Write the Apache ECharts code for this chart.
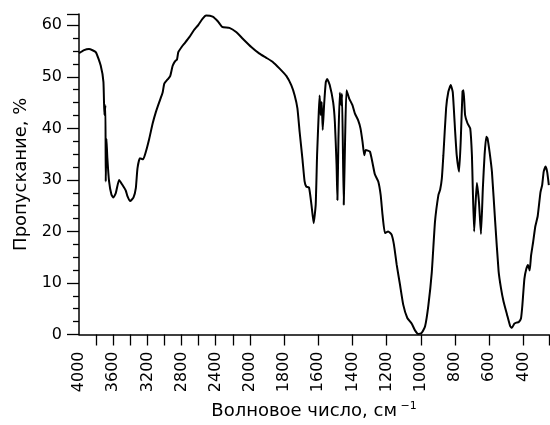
<!DOCTYPE html>
<html>
<head>
    <meta charset="UTF-8">
    <title>ИК-спектр</title>
    <script src="https://cdn.jsdelivr.net/npm/echarts@6.0.0/dist/echarts.min.js"></script>
</head>
<body style="margin:0">

<div id="main" style="width: 550px;height:425px"></div>

<script type="text/javascript">
    // волновое число, см-1
    var wavenumber = [4000, 3940, 3883, 3804, 3746, 3714, 3703, 3691, 3687, 3679, 3668, 3648, 3620, 3597, 3570,
        3531, 3491, 3452, 3432, 3401, 3362, 3335, 3316, 3288, 3249, 3217, 3178, 3139, 3100, 3061, 3022, 3002,
        2963, 2932, 2905, 2877, 2853, 2838, 2799, 2760, 2709, 2658, 2603, 2553, 2513, 2436, 2376, 2325, 2240,
        2161, 2083, 1992, 1944, 1904, 1866, 1826, 1787, 1758, 1738, 1722, 1709, 1693, 1680, 1670, 1654, 1640,
        1627, 1615, 1607, 1597, 1592, 1586, 1580, 1574, 1566, 1556, 1548, 1533, 1513, 1503, 1493, 1488, 1482,
        1474, 1466, 1461, 1451, 1443, 1435, 1419, 1400, 1386, 1367, 1353, 1341, 1331, 1322, 1298, 1282, 1269,
        1249, 1235, 1224, 1210, 1191, 1171, 1157, 1141, 1122, 1103, 1079, 1053, 1034, 1015, 995, 975, 956,
        936, 917, 897, 887, 877, 868, 852, 839, 825, 813, 799, 790, 776, 766, 756, 750, 741, 727, 711, 701,
        696, 688, 680, 672, 660, 648, 637, 627, 617, 610, 598, 584, 565, 545, 531, 516, 496, 477, 467, 453,
        441, 428, 414, 406, 394, 383, 373, 363, 355, 343, 330, 316, 300, 290, 281, 271, 261, 251];
    // пропускание, %
    var transmittance = [54.6, 55.2, 55.4, 54.8, 52.2, 49.0, 42.6, 44.5, 29.7, 38.0, 34.2, 29.7, 27.1, 26.6, 27.4,
        30.0, 29.0, 27.9, 26.8, 25.9, 26.6, 28.4, 32.2, 34.2, 34.0, 35.5, 38.0, 40.9, 43.2, 45.1, 46.9, 48.7,
        49.5, 50.2, 52.1, 53.0, 53.4, 54.8, 55.8, 56.6, 57.7, 59.0, 60.1, 61.3, 61.9, 61.7, 60.8, 59.7, 59.5,
        58.7, 57.4, 55.8, 54.5, 53.7, 52.9, 51.6, 50.2, 48.4, 46.4, 43.9, 39.3, 34.2, 29.7, 28.7, 28.5, 25.2,
        21.6, 25.2, 34.8, 43.2, 46.4, 42.6, 45.1, 39.7, 44.5, 49.0, 49.6, 48.4, 45.1, 41.3, 32.9, 26.1, 38.0,
        46.9, 44.5, 46.7, 25.2, 38.0, 47.4, 45.8, 44.5, 42.9, 41.6, 40.0, 37.4, 34.8, 35.8, 35.5, 33.2, 31.1,
        29.7, 27.1, 23.2, 19.7, 20.0, 19.4, 17.4, 13.5, 9.7, 5.8, 3.2, 2.1, 0.8, 0.1, 0.3, 1.6, 5.6,
        12.0, 21.9, 27.1, 28.1, 30.3, 34.8, 43.9, 47.1, 48.4, 47.0, 39.3, 34.8, 31.6, 38.0, 47.2, 47.4, 42.6, 41.0, 40.0, 34.8,
        28.4, 20.0, 25.2, 29.4, 25.8, 19.5, 28.4, 34.8, 38.4, 38.1, 35.5, 31.6, 21.9, 12.3, 9.0, 6.4, 3.9, 1.6, 1.3, 2.1,
        2.3, 2.4, 3.1, 5.6, 10.8, 12.7, 13.5, 12.4, 15.3, 17.9, 21.0, 23.0, 27.6, 29.0, 31.6, 32.6, 31.6, 29.0];

    var tickWn = [3800, 3600, 3400, 3200, 3000, 2800, 2600, 2400, 2200, 2000,
        1800, 1600, 1400, 1200, 1000, 800, 600, 400, 250];
    var labelWn = [4000, 3600, 3200, 2800, 2400, 2000, 1800, 1600, 1400, 1200, 1000, 800, 600, 400];

    // шкала меняется на 2000 см-1: выше 2000 сжата вдвое
    function toPos(wn) {
        return wn >= 2000 ? (4000 - wn) / 2 : 1000 + (2000 - wn);
    }
    function toWn(u) {
        return u <= 1000 ? 4000 - 2 * u : 3000 - u;
    }

    var seriesData = [];
    for (var i = 0; i < wavenumber.length; i++) {
        seriesData.push([toPos(wavenumber[i]), transmittance[i]]);
    }

    var font = 'DejaVu Sans';
    var myChart = echarts.init(document.getElementById('main'));
    var option = {
        animation: false,
        grid: {left: 79, right: 1, top: 14, bottom: 90.5, outerBoundsMode: 'none'},
        xAxis: {
            type: 'value',
            min: 0,
            max: toPos(250),
            name: '{a|Волновое число, см}{s| −1}',
            nameLocation: 'middle',
            nameGap: 66,
            nameTextStyle: {
                color: '#000',
                rich: {
                    a: {fontFamily: font, fontSize: 18, color: '#000', lineHeight: 22},
                    s: {fontFamily: font, fontSize: 11, color: '#000', verticalAlign: 'top', lineHeight: 22}
                }
            },
            axisLine: {lineStyle: {color: '#000', width: 1.5}},
            axisTick: {
                length: 11,
                lineStyle: {color: '#000', width: 1.3},
                customValues: tickWn.map(toPos)
            },
            axisLabel: {
                rotate: 90,
                margin: 17,
                color: '#000',
                fontFamily: font,
                fontSize: 16,
                customValues: labelWn.map(toPos),
                formatter: function (v) { return String(Math.round(toWn(v))); }
            },
            splitLine: {show: false}
        },
        yAxis: {
            type: 'value',
            min: 0,
            max: 62.2,
            interval: 10,
            name: 'Пропускание, %',
            nameLocation: 'middle',
            nameRotate: 90,
            nameGap: 48,
            nameTextStyle: {fontFamily: font, fontSize: 18, color: '#000'},
            axisLine: {show: true, lineStyle: {color: '#000', width: 1.5}},
            axisTick: {show: true, length: 12, lineStyle: {color: '#000', width: 1.3}},
            minorTick: {show: true, splitNumber: 4, length: 6, lineStyle: {color: '#000', width: 1.3}},
            axisLabel: {margin: 17, color: '#000', fontFamily: font, fontSize: 16},
            splitLine: {show: false}
        },
        series: [{
            type: 'line',
            data: seriesData,
            showSymbol: false,
            smooth: 0.15,
            lineStyle: {color: '#000', width: 2}
        }]
    };
    myChart.setOption(option);
</script>
</body>
</html>
